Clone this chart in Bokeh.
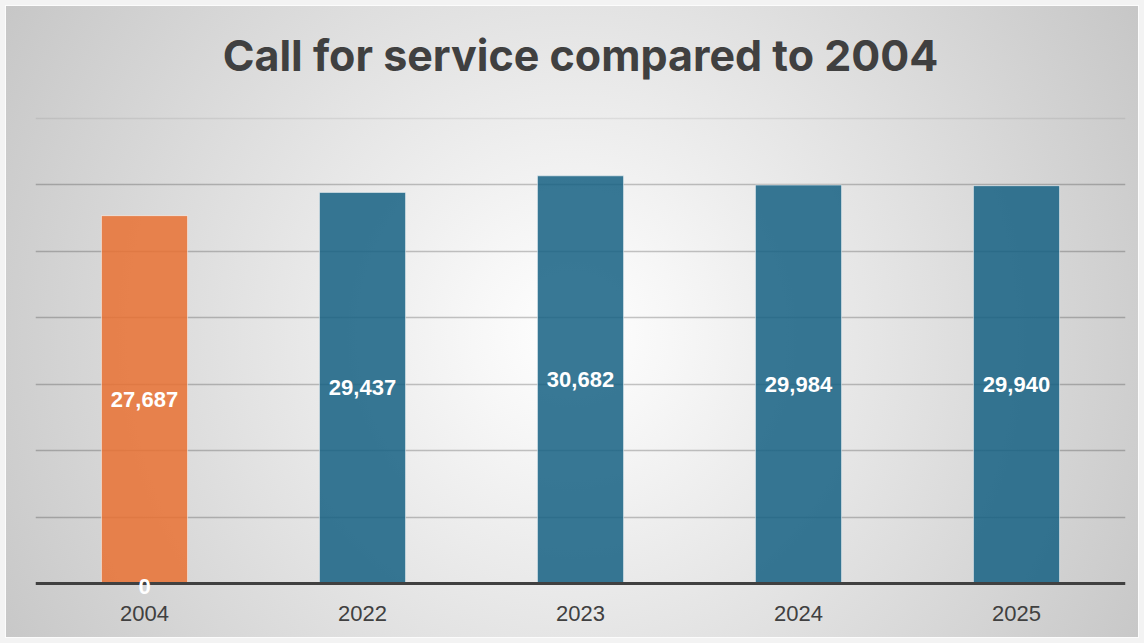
from bokeh.plotting import figure
from bokeh.models import ColumnDataSource, FixedTicker, Grid, LabelSet, Label, Span
from bokeh.core.properties import value
from bokeh.embed import file_html
from bokeh.resources import INLINE

# ---- data ----
years = ["2004", "2022", "2023", "2024", "2025"]
calls = [27687, 29437, 30682, 29984, 29940]
zero_label_years = ["2004"]
zero_label_values = [0]
title_text = "Call for service compared to 2004"
grid_ticks = [5000, 10000, 15000, 20000, 25000, 30000]
top_grid_ticks = [35000]

ORANGE = "#E97132"
TEAL = "#156082"
bar_colors = [ORANGE if y == "2004" else TEAL for y in years]

src = ColumnDataSource(dict(
    year=years,
    calls=calls,
    mid=[c / 2 for c in calls],
    label=[f"{c:,}" for c in calls],
    color=bar_colors,
))
zsrc = ColumnDataSource(dict(
    year=zero_label_years,
    val=zero_label_values,
    label=[str(v) for v in zero_label_values],
))

p = figure(width=1144, height=643, x_range=years, y_range=(-1280, 43880),
           output_backend="svg", toolbar_location=None,
           min_border_left=35, min_border_right=19,
           min_border_top=0, min_border_bottom=43)
p.border_fill_color = None
p.background_fill_color = None
p.outline_line_color = None
p.styles = {
    "background": "radial-gradient(circle farthest-corner at 50% 52%, #ffffff 0%, #f7f7f7 15%, #c6c6c6 100%)",
    "box-shadow": "inset 0 0 0 5px #f3f3f3, inset 0 0 0 6px #fcfcfc",
}

# grids
p.xgrid.visible = False
p.ygrid.ticker = FixedTicker(ticks=grid_ticks)
p.ygrid.grid_line_color = "black"
p.ygrid.grid_line_alpha = 0.22
p.ygrid.grid_line_width = 1.5
top_grid = Grid(dimension=1, ticker=FixedTicker(ticks=top_grid_ticks),
                grid_line_color="black", grid_line_alpha=0.07, grid_line_width=1.5)
p.add_layout(top_grid)

# axes
p.yaxis.visible = False
xa = p.xaxis[0]
xa.axis_line_color = None
xa.major_tick_line_color = None
xa.minor_tick_line_color = None
xa.major_tick_out = 0
xa.major_tick_in = 0
xa.major_label_text_font = "Liberation Sans"
xa.major_label_text_font_size = "22px"
xa.major_label_text_color = "#404040"
xa.major_label_standoff = 5

# bars
p.vbar(x="year", top="calls", bottom=0, width=0.395, source=src,
       fill_color="color", fill_alpha=0.85,
       line_color="white", line_alpha=0.5, line_width=1)

labels = LabelSet(x="year", y="mid", text="label", source=src,
                  text_align="center", text_baseline="middle",
                  text_color="white", text_font=value("Liberation Sans"),
                  text_font_style="bold", text_font_size="22px")
p.add_layout(labels)

# baseline
p.add_layout(Span(location=0, dimension="width", line_color="#404040", line_width=3))

zlabels = LabelSet(x="year", y="val", text="label", source=zsrc,
                   text_align="center", text_baseline="middle", y_offset=-3,
                   text_color="white", text_font=value("Liberation Sans"),
                   text_font_style="bold", text_font_size="22px")
p.add_layout(zlabels)

title = Label(x=2.5, y=39800, text=title_text, text_align="center",
              text_baseline="middle", text_font="Inter",
              text_font_style="bold", text_font_size="43px", text_color="#404040")
p.add_layout(title)

open("out.html", "w").write(file_html(p, INLINE))
